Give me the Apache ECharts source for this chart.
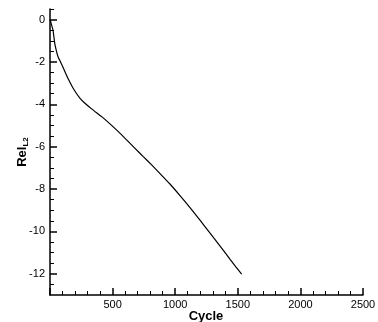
<!DOCTYPE html>
<html><head><meta charset="utf-8">
<script src="https://cdn.jsdelivr.net/npm/echarts@6/dist/echarts.min.js"></script>
<style>html,body{margin:0;padding:0;background:#fff}#c{width:378px;height:322px}</style>
</head><body><div id="c"></div>
<script>
const cycles = [1, 10, 24, 38, 50, 64, 90, 130, 150, 186, 240, 279, 340, 413, 479, 546, 612, 679, 745, 812, 892, 958, 1040, 1131, 1198, 1280, 1360, 1440, 1531];
const relL2 = [0.0, -0.2, -0.5, -1.12, -1.45, -1.75, -2.07, -2.6, -2.85, -3.25, -3.72, -3.95, -4.25, -4.58, -4.92, -5.29, -5.68, -6.08, -6.47, -6.86, -7.35, -7.76, -8.32, -8.97, -9.47, -10.09, -10.7, -11.33, -12.02];
const yTicks = [0, -2, -4, -6, -8, -10, -12];
const yMinorTicks = [0.5, -0.5, -1, -1.5, -2.5, -3, -3.5, -4.5, -5, -5.5, -6.5, -7, -7.5, -8.5, -9, -9.5, -10.5, -11, -11.5, -12.5];
const xTitle = 'Cycle';
const yTitleMain = 'Rel';
const yTitleSub = 'L2';

const font = 'Liberation Sans, Arial, sans-serif';
const chart = echarts.init(document.getElementById('c'));
chart.setOption({
  animation: false,
  grid: {left: 50, right: 15, top: 9, bottom: 27, containLabel: false, outerBoundsMode: 'none'},
  graphic: [{
    type: 'text', x: 206, y: 316,
    style: {text: xTitle, font: 'bold 13px ' + font, fill: '#000', align: 'center', verticalAlign: 'middle'}
  }, {
    type: 'text', x: 22, y: 152, rotation: Math.PI / 2,
    style: {text: '{a|' + yTitleMain + '}{b|' + yTitleSub + '}', fill: '#000', align: 'center', verticalAlign: 'middle',
      rich: {a: {fontFamily: font, fontSize: 13, fontWeight: 'bold', fill: '#000'},
             b: {fontFamily: font, fontSize: 8, fontWeight: 'bold', fill: '#000', padding: [8, 0, 0, 0]}}}
  }],
  xAxis: {
    type: 'value', min: 0, max: 2500, interval: 500,
    axisLine: {show: true, onZero: false, lineStyle: {color: '#000', width: 1.5}},
    axisTick: {show: true, inside: true, length: 7, lineStyle: {color: '#000', width: 1.5}},
    minorTick: {show: true, splitNumber: 5, length: 4, lineStyle: {color: '#000', width: 1}},
    axisLabel: {fontFamily: font, fontSize: 11, color: '#000', margin: 4,
      formatter: v => (v === 0 ? '' : String(v))},
    splitLine: {show: false}
  },
  yAxis: [{
    type: 'value', min: -13, max: 0.5,
    axisLine: {show: true, onZero: false, lineStyle: {color: '#000', width: 1.5}},
    axisTick: {show: true, inside: true, length: 7, lineStyle: {color: '#000', width: 1.5}, customValues: yTicks},
    axisLabel: {fontFamily: font, fontSize: 11, color: '#000', margin: 5, customValues: yTicks},
    splitLine: {show: false}
  }, {
    type: 'value', min: -13, max: 0.5, position: 'left',
    axisLine: {show: false, onZero: false},
    axisTick: {show: true, inside: true, length: 4, lineStyle: {color: '#000', width: 1}, customValues: yMinorTicks},
    axisLabel: {show: false},
    splitLine: {show: false}
  }],
  series: [{
    type: 'line', data: cycles.map((c, i) => [c, relL2[i]]),
    showSymbol: false, smooth: 0.15,
    lineStyle: {color: '#000', width: 1.2}
  }]
});
</script></body></html>
